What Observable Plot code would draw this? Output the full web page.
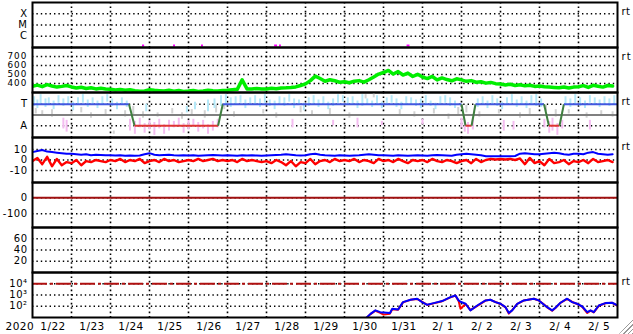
<!DOCTYPE html>
<html><head><meta charset="utf-8">
<script src="https://cdn.jsdelivr.net/npm/d3@7"></script>
<script src="https://cdn.jsdelivr.net/npm/@observablehq/plot@0.6"></script>
<style>
body{margin:0;background:#fff;}
#chart{position:relative;width:633px;height:334px;overflow:hidden;background:#fff;}
#chart svg{position:absolute;left:0;background:none !important;overflow:visible;}
#grip{position:absolute;right:0;bottom:0;width:14px;height:16px;
 background:repeating-linear-gradient(135deg,#fff 0 2px,#999 2px 3px);
 clip-path:polygon(100% 0,100% 100%,0 100%);}
</style></head>
<body><div id="chart"><div id="grip"></div></div>
<script>
// ---- labels ----
const dayLabels = ["1/22","1/23","1/24","1/25","1/26","1/27","1/28","1/29","1/30","1/31","2/ 1","2/ 2","2/ 3","2/ 4","2/ 5"];
const yearLabel = "2020";
const flareValues = [1e-4, 1e-5, 1e-6];
const flareLabels = ["X", "M", "C"];
const speedTicks = [700, 600, 500, 400];
const sectorTicks = [1, -1];
const sectorLabels = ["T", "A"];
const bTicks = [10, 0, -10];
const dstTicks = [0, -100];
const p6Ticks = [60, 40, 20];
const protonTicks = [1e4, 1e3, 1e2];
const protonLabels = ["10\u2074", "10\u00b3", "10\u00b2"];

// ---- X-ray flux (short segments, hours from 1/22 00UT) ----
const xrayStart = [67.7, 86.8, 104, 149, 152, 230.5];
const xrayEnd   = [69, 88, 105.2, 150.8, 153.2, 232.3];
const xrayLevel = [1.5e-7, 1.5e-7, 1.5e-7, 1.5e-7, 1.5e-7, 1.5e-7];

// ---- solar wind speed, 3-hourly (km/s) ----
const speed = [
 370,382,365,388,372,360,368,378,
 362,350,358,345,352,340,348,338,
 335,328,334,325,330,320,314,318,
 330,324,320,316,326,314,322,312,
 316,322,312,318,326,320,317,322,
 325,330,335,440,340,338,345,340,
 340,346,342,350,352,356,362,378,
 396,432,482,455,425,442,430,414,
 420,408,426,432,415,442,472,505,
 522,545,505,532,494,516,478,502,
 472,455,478,440,462,444,430,452,
 440,424,432,414,420,404,412,398,
 395,384,392,378,386,374,380,368,
 372,364,360,356,352,362,350,360,
 364,376,356,380,370,360,378,372];

// ---- IMF sector polarity (hour, +1 toward / -1 away) ----
const sectorHours = [0, 59.4, 62.8, 114.2, 117.1, 264, 266.5, 270.2, 272.6, 314.8, 317.8, 324.3, 327, 360];
const sectorState = [1, 1, -1, -1, 1, 1, -1, -1, 1, 1, -1, -1, 1, 1];

// ---- IMF angle streaks [hour, lo, hi] ----
const cyanStreaks = [
 [1,0.8,1.7],[3,0.6,1.4],[5,1.0,1.9],[8,0.7,1.5],[10,0.9,1.6],[13,0.5,1.3],[16,1.1,1.8],[19,0.8,1.5],[22,1.0,1.7],[25,0.4,1.2],
 [28,0.9,1.6],[31,1.1,1.9],[34,0.7,1.4],[37,1.0,1.6],[40,0.6,1.3],[43,0.9,1.7],[46,1.2,1.9],[49,0.8,1.5],[52,0.5,1.2],[55,0.9,1.6],[58,0.7,1.3],
 [70,0.3,1.0],[95,0.2,0.8],[100,0.5,1.2],[108,0.3,1.4],[112,0.6,1.5],
 [116,0.8,1.8],[119,1.0,1.9],[122,0.7,1.6],[125,0.9,1.7],[128,1.1,1.8],[131,0.6,1.4],[134,0.9,1.6],[137,1.0,1.8],[140,0.7,1.5],[143,1.1,1.9],
 [146,0.8,1.4],[149,0.5,1.3],[152,1.0,1.7],[155,0.8,1.6],[158,1.2,1.9],[161,0.6,1.5],[164,0.9,1.4],[167,0.4,1.1],[170,0.8,1.6],[173,1.0,1.8],
 [176,0.7,1.4],[179,0.9,1.7],[182,0.5,1.2],[185,0.8,1.5],[188,1.1,1.9],[191,1.2,1.8],[194,0.9,1.6],[197,1.0,1.7],[200,0.6,1.3],[203,0.8,1.9],
 [206,0.9,1.5],[209,0.7,1.3],[212,1.0,1.8],[215,0.6,1.2],[218,0.9,1.6],[221,1.1,1.8],[224,0.7,1.5],[227,0.5,1.2],[230,0.9,1.7],[233,1.0,1.6],
 [236,0.8,1.4],[239,0.6,1.5],[242,1.0,1.8],[245,0.8,1.3],[248,0.5,1.1],[251,0.9,1.7],[254,1.1,1.8],[257,0.8,1.6],[260,0.6,1.3],
 [274,0.7,1.5],[277,0.9,1.7],[280,0.6,1.3],[283,1.0,1.8],[286,0.8,1.5],[289,0.5,1.2],[292,0.9,1.6],[295,1.1,1.9],[298,0.7,1.4],[301,0.9,1.7],
 [304,0.6,1.3],[307,1.0,1.8],[310,0.8,1.9],[313,0.7,1.5],
 [328,0.9,1.7],[331,0.7,1.5],[334,1.0,1.9],[337,0.8,1.6],[340,0.6,1.3],[343,1.1,1.8],[346,0.9,1.6],[349,0.7,1.4],[352,1.0,1.7],[355,0.8,1.5],[358,0.9,1.8]];
const pinkStreaks = [
 [19,-0.3,-1.3],[21,-0.5,-1.6],
 [60,-0.4,-1.5],[63,-0.6,-1.8],[66,-0.3,-1.2],[69,-0.8,-1.7],[72,-0.5,-1.4],[75,-0.7,-1.9],[78,-0.4,-1.3],[81,-0.9,-1.8],[84,-0.5,-1.5],
 [87,-0.6,-1.2],[90,-0.3,-1.0],[93,-0.8,-1.7],[96,-0.5,-1.4],[99,-0.4,-1.1],[102,-0.7,-1.6],[105,-0.5,-1.3],[108,-0.9,-1.8],[111,-0.6,-1.5],[114,-0.4,-1.2],
 [160,-0.4,-1.2],[185,-0.5,-1.0],[200,-0.3,-1.2],[215,-0.6,-1.0],[240,-0.4,-0.9],
 [264,-0.3,-1.2],[266,-0.5,-1.6],[268,-0.7,-1.8],[271,-0.4,-1.4],[290,-0.5,-1.5],[296,-0.6,-1.4],
 [315,-0.4,-1.2],[318,-0.6,-1.7],[320,-0.3,-1.5],[323,-0.8,-1.9],[326,-0.5,-1.3],[343,-0.5,-1.4]];
const grayStreaks = [
 [2,0.1,0.6],[6,0.0,0.4],[12,-0.2,0.5],[24,-0.1,0.3],[30,0.2,0.7],[36,-0.3,0.2],[45,0.0,0.5],[50,-1.8,-1.5],[57,-0.2,0.4],[62,0.0,0.8],
 [68,-0.3,0.3],[77,-0.2,0.2],[86,0.1,0.6],[92,-0.4,0.2],[98,0.0,0.5],[106,-0.3,0.4],[113,0.2,0.9],[118,0.5,1.0],[124,-0.2,0.3],[142,0.1,0.5],
 [150,-0.3,0.2],[165,0.2,0.8],[172,-0.1,0.4],[183,0.0,0.6],[195,-0.3,0.2],[205,1.5,1.9],[210,1.6,2.0],[226,0.0,0.5],[235,-0.2,0.3],[247,0.1,0.6],
 [256,-0.4,0.1],[262,0.0,0.7],[267,0.2,0.9],[275,-0.2,0.3],[287,0.1,0.5],[300,-0.3,0.2],[306,0.0,0.6],[316,0.3,0.9],[322,-0.2,0.5],[330,0.1,0.5],
 [341,-0.3,0.2],[350,0.0,0.4],[357,-0.2,0.3]];

// ---- IMF Bt and Bz, 3-hourly (nT) ----
const bt = [
 7.5,8.5,9.5,8,7.5,7,6.5,6,
 6,5.5,5,5.5,4.5,5,4.8,4.5,
 4.5,4.2,4.5,4,4.3,4,4.2,5.5,
 6.5,5,4.5,4.8,5,4.5,4.2,4.5,
 4.3,4.5,4,4.2,4.5,4.8,4.5,4.3,
 4.5,4.2,4,4.5,4.3,4.5,4.2,4,
 4.2,4.5,4.8,5,5.5,5,4.5,4.2,
 4.5,5.5,6,5,4.5,4.2,4,4.5,
 4.2,4,4.3,4.5,5,5.5,5,4.5,
 4.5,4.2,4,4.5,4.2,4,4.3,4.5,
 4.2,4,4.5,4.8,4.5,4.2,4,5,
 5.5,6,5.5,5,4.5,3.5,3.5,3.5,
 3.5,3.5,3.5,3.8,6,6.5,6,5.5,
 5.5,6,6.5,7,6.5,5.5,5,6,
 6,5.5,7,7.5,6,5.5,5,5.5];
const bz = [
 -1,2,-4,3,-6,1,-5,-2,
 -3,0,-5,-1,-2,0,-1,-2,
 0,-1,1,-2,0,-1,1,-3,
 -1,0,-2,1,-1,0,-2,-1,
 0,-1,1,-1,0,1,-1,0,
 -1,0,-2,1,-1,0,-1,-2,
 -1,-3,0,-2,-5,-1,-6,-2,
 -3,1,-4,-1,0,-2,1,-1,
 0,-1,1,-2,0,-1,-3,1,
 -1,0,-2,1,-1,-3,0,-1,
 0,-2,1,-1,-2,0,-1,-3,
 -1,0,-3,1,-2,0,1,0.5,
 1,0.5,1,0,1.5,-4,2,-3,
 -1,-5,1,-3,-2,0,-4,-1,
 -2,0,-3,1,-2,-1,0,-2];

// ---- Dst reference and proton flux ----
const dstLevel = [0];
const protonAlert = [1e4];
const protonHours = [205,208,211,214,216,220,221.4,225,228,232.6,236.7,239.8,242.9,246.8,252.1,257.2,260.3,262.2,263.4,266.5,
 269.5,273.7,278.8,281.8,284.9,288,291.1,293.1,295.2,298.3,302.3,308.5,311.6,314.6,316.7,319.8,321.8,324.9,329,332.1,
 335.2,338.3,341.4,343.4,345.4,348.5,352.6,356.7,360];
const protonBlue = [8,21,43,30,28,25,60,51,234,380,468,234,135,190,288,645,912,331,250,166,
 43,117,331,380,234,166,83,26,43,166,331,468,331,145,83,43,74,204,468,234,
 166,95,30,43,30,117,190,204,117];
const protonRed = [8,20,40,26,18,22,55,50,220,370,450,240,130,180,280,620,880,300,60,160,
 45,110,320,370,240,160,80,22,45,160,320,460,320,150,80,40,70,200,450,240,
 160,90,25,40,28,110,185,200,110];

// ---- helpers ----
const FONT = '"DejaVu Sans", Arial, sans-serif';
const t0 = Date.UTC(2020, 0, 22);
const T = h => new Date(t0 + h * 3600e3);
const xDomain = [T(0), T(24 * dayLabels.length)];
const midnights = d3.utcDay.range(T(1), T(24 * dayLabels.length - 1)).filter(d => +d > t0);
const noons = dayLabels.map((_, i) => T(12 + 24 * i));
const series3h = arr => arr.map((v, i) => ({t: T(3 * i), v}));
const chart = document.getElementById("chart");
const dotted = {stroke: "#000", strokeWidth: 1.4, strokeDasharray: "1.4,3"};

function panel(i, {y, marks, bottom = false, rt = false, font = "10px", spacing = "0.5px"}) {
  const mb = bottom ? 17 : 1;
  const svg = Plot.plot({
    width: 633, height: 46 + mb,
    marginTop: 1, marginBottom: mb, marginLeft: 32, marginRight: 16,
    style: {fontFamily: FONT, fontSize: font, letterSpacing: spacing, background: "none", color: "#000"},
    x: {type: "utc", domain: xDomain, axis: null},
    y: {tickSize: 0, tickPadding: 5, label: null, ...y},
    marks: [
      Plot.ruleX(midnights, {stroke: "#000", strokeWidth: 1.6, strokeDasharray: "1.6,2.8"}),
      Plot.ruleY(y.ticks, dotted),
      ...marks,
      rt ? Plot.text(["rt"], {frameAnchor: "top-right", dx: 4, dy: 5, textAnchor: "start", lineAnchor: "top", fontSize: 10, letterSpacing: "0px"}) : null,
      Plot.frame({stroke: "#000", strokeWidth: 2})
    ]
  });
  svg.style.top = (1 + 45 * i) + "px";
  chart.appendChild(svg);
}

// Panel 1: X-ray class
panel(0, {
  rt: true,
  y: {type: "log", domain: [1e-7, 1e-3], ticks: flareValues, tickFormat: d => flareLabels[flareValues.indexOf(d)]},
  marks: [
    Plot.ruleY(xrayLevel, {y: d => d, x1: (d, i) => T(xrayStart[i]), x2: (d, i) => T(xrayEnd[i]), stroke: "#ff00ff", strokeWidth: 2})
  ]
});

// Panel 2: speed
panel(1, {
  rt: true, font: "8.8px", spacing: "1.1px",
  y: {domain: [300, 800], ticks: speedTicks, tickFormat: d => String(d)},
  marks: [
    Plot.line(series3h(speed), {x: "t", y: "v", stroke: "#00ee00", strokeWidth: 3.5, clip: true})
  ]
});

// Panel 3: sector
const sectorSegs = sectorHours.slice(1).map((h, i) => ({
  x1: T(sectorHours[i]), x2: T(h), y1: sectorState[i], y2: sectorState[i + 1],
  c: sectorState[i] !== sectorState[i + 1] ? "#3f7f3f" : sectorState[i] > 0 ? "#4258e0" : "#e03434"
}));
const streak = (arr, color) => Plot.ruleX(arr, {x: d => T(d[0]), y1: d => d[1], y2: d => d[2], stroke: color, strokeWidth: 2, clip: true});
panel(2, {
  rt: true,
  y: {domain: [-2.1, 2.1], ticks: sectorTicks, tickFormat: d => sectorLabels[sectorTicks.indexOf(d)]},
  marks: [
    streak(grayStreaks, "#d2d2d2"),
    streak(pinkStreaks, "#f4bcf0"),
    streak(cyanStreaks, "#b4e8f8"),
    Plot.ruleY([0], {stroke: "#808080", strokeWidth: 2}),
    Plot.link(sectorSegs, {x1: "x1", x2: "x2", y1: "y1", y2: "y2", stroke: "c", strokeWidth: 2})
  ]
});

// Panel 4: Bt / Bz
panel(3, {
  rt: true,
  y: {domain: [-21.4, 21.4], ticks: bTicks, tickFormat: d => String(d)},
  marks: [
    Plot.line(series3h(bz), {x: "t", y: "v", stroke: "#ff0000", strokeWidth: 2.4, clip: true}),
    Plot.line(series3h(bt), {x: "t", y: "v", stroke: "#0000ff", strokeWidth: 2, clip: true})
  ]
});

// Panel 5: Dst
panel(4, {
  y: {domain: [-186, 96], ticks: dstTicks, tickFormat: d => String(d)},
  marks: [
    Plot.ruleY(dstLevel, {stroke: "#a01010", strokeWidth: 2})
  ]
});

// Panel 6: empty index panel
panel(5, {
  y: {domain: [0, 80], ticks: p6Ticks, tickFormat: d => String(d)},
  marks: []
});

// Panel 7: proton flux
panel(6, {
  rt: true, bottom: true,
  y: {type: "log", domain: [10, 1e5], ticks: protonTicks, tickFormat: d => protonLabels[protonTicks.indexOf(d)]},
  marks: [
    Plot.ruleY(protonAlert, {stroke: "#b01010", strokeWidth: 2, strokeDasharray: "15,3,3,3"}),
    Plot.line(protonHours.map((h, i) => ({t: T(h), v: protonRed[i]})), {x: "t", y: "v", stroke: "#ff0000", strokeWidth: 2, clip: true}),
    Plot.line(protonHours.map((h, i) => ({t: T(h), v: protonBlue[i]})), {x: "t", y: "v", stroke: "#0000ff", strokeWidth: 2, clip: true}),
    Plot.text(dayLabels, {x: (d, i) => noons[i], text: d => d, frameAnchor: "bottom", lineAnchor: "top", dy: 5, dx: 1, fontSize: 10.5}),
    Plot.text([yearLabel], {frameAnchor: "bottom-left", dx: -27, dy: 5, textAnchor: "start", lineAnchor: "top", fontSize: 10.5})
  ]
});
</script>
</body></html>
